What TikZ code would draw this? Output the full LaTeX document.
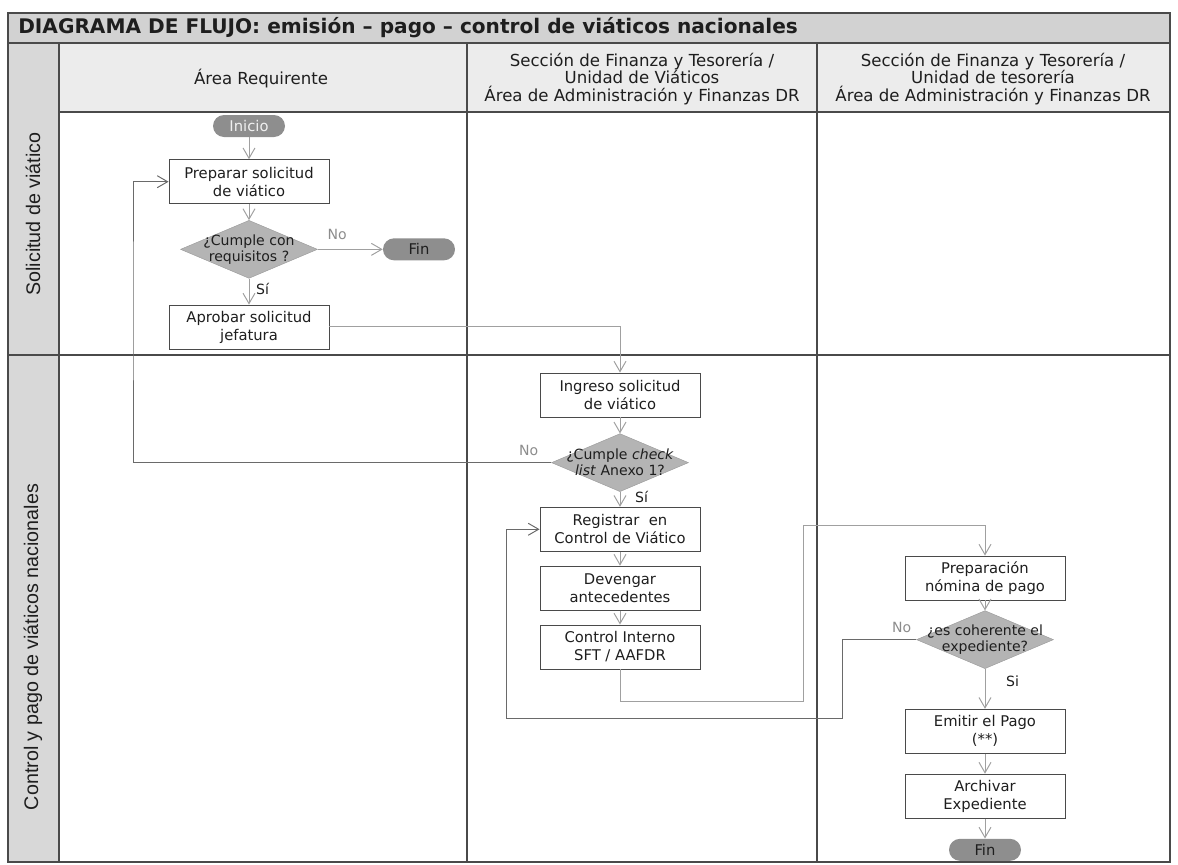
\documentclass[tikz,border=0pt]{standalone}
\usepackage{fontspec}
\setmainfont{DejaVu Sans}
\newfontfamily\lanefont{Liberation Sans}
\usetikzlibrary{arrows.meta,positioning,shapes.geometric}
\definecolor{Ink}{HTML}{1E1E1E}
\definecolor{Frame}{HTML}{4A4A4A}
\definecolor{Band}{HTML}{D2D2D2}
\definecolor{HeadFill}{HTML}{ECECEC}
\definecolor{Lane}{HTML}{D8D8D8}
\definecolor{Decide}{HTML}{B4B4B4}
\definecolor{Pill}{HTML}{8E8E8E}
\definecolor{Wire}{HTML}{A0A0A0}
\definecolor{Back}{HTML}{6A6A6A}
\definecolor{Muted}{HTML}{8C8C8C}
\newcommand{\dline}[1]{\makebox[0pt]{#1}}
\tikzset{
  frame/.style={draw=Frame,line width=0.8pt},
  titletext/.style={font=\fontsize{14.3}{16}\selectfont\bfseries,text=Ink,inner sep=0pt},
  headtext/.style={font=\fontsize{11.8}{12.4}\selectfont,align=center,text=Ink},
  lanetext/.style={font=\lanefont\fontsize{14}{15}\selectfont,rotate=90,text=Ink},
  task/.style={draw=Frame,line width=0.6pt,fill=white,minimum width=40mm,minimum height=11mm,align=center,inner sep=1pt,text=Ink,font=\fontsize{10.5}{12.8}\selectfont},
  decision/.style={diamond,fill=Decide,draw=Decide!85!black,line width=0.3pt,minimum width=34.25mm,minimum height=14.5mm,inner sep=0pt,align=center,text=Ink,font=\fontsize{10}{11.5}\selectfont},
  terminal/.style={fill=Pill,rounded corners=2.75mm,minimum width=18mm,minimum height=5.5mm,inner sep=0pt,font=\fontsize{10.5}{12}\selectfont},
  flowArrow/.style={-{Straight Barb[length=2.6mm,width=3mm]},line width=0.7pt,draw=Wire},
  backArrow/.style={-{Straight Barb[length=2.6mm,width=3mm]},line width=0.7pt,draw=Back},
  nolabel/.style={font=\fontsize{10}{12}\selectfont,text=Muted},
  silabel/.style={font=\fontsize{10}{12}\selectfont,text=Ink}
}
\begin{document}
\begin{tikzpicture}[x=0.25mm,y=-0.25mm,node distance=5mm and 16mm]
\useasboundingbox (0,0) rectangle (1178,865);
% lanes and header
\fill[Band] (8,13) rectangle (1170,43);
\fill[HeadFill] (59,43) rectangle (1170,112);
\fill[Lane] (8,43) rectangle (59,862);
\draw[frame] (8,13) rectangle (1170,862);
\draw[frame] (8,43) -- (1170,43);
\draw[frame] (59,112) -- (1170,112);
\draw[frame] (59,43) -- (59,862);
\draw[frame] (467,43) -- (467,862);
\draw[frame] (817,43) -- (817,862);
\draw[frame] (8,355) -- (1170,355);
\node[titletext,anchor=west] (title) at (18,28) {DIAGRAMA DE FLUJO: emisión – pago – control de viáticos nacionales};
\node[headtext] (hReq) at (261,79) {Área Requirente};
\node[headtext] (hVia) at (642,79) {Sección de Finanza y Tesorería /\\Unidad de Viáticos\\Área de Administración y Finanzas DR};
\node[headtext] (hTes) at (993,79) {Sección de Finanza y Tesorería /\\Unidad de tesorería\\Área de Administración y Finanzas DR};
\node[lanetext] (lSol) at (33,214) {Solicitud de viático};
\node[lanetext] (lCtl) at (33,647) {Control y pago de viáticos nacionales};
% area requirente
\node[terminal,text=white!88!gray] (inicio) at (249,126) {Inicio};
\node[task,below=5.5mm of inicio] (preparar) {Preparar solicitud\\de viático};
\node[decision,below=4mm of preparar] (cumple1) {\dline{¿Cumple con}\\\dline{requisitos ?}};
\node[terminal,text=Ink,right=16.25mm of cumple1] (fin1) {Fin};
\node[task,below=6.5mm of cumple1] (aprobar) {Aprobar solicitud\\jefatura};
% unidad de viaticos
\node[task] (ingreso) at (620,395) {Ingreso solicitud\\de viático};
\node[decision,below=4mm of ingreso] (cumple2) {\dline{¿Cumple \textit{check}}\\\dline{\textit{list} Anexo 1?}};
\node[task,below=3.75mm of cumple2] (registrar) {Registrar\ \ en\\Control de Viático};
\node[task,below=3.5mm of registrar] (devengar) {Devengar\\antecedentes};
\node[task,below=3.5mm of devengar] (control) {Control Interno\\SFT / AAFDR};
% unidad de tesoreria
\node[task] (preparacion) at (985,578) {Preparación\\nómina de pago};
\node[decision,below=2.5mm of preparacion] (cumple3) {\dline{¿es coherente el}\\\dline{expediente?}};
\node[task,below=10mm of cumple3] (emitir) {Emitir el Pago\\(**)};
\node[task,below=5mm of emitir] (archivar) {Archivar\\Expediente};
\node[terminal,text=Ink,below=5mm of archivar] (fin2) {Fin};
% return points
\coordinate (retA) at (133,300);
\coordinate (upA) at (803,701);
\coordinate (upB) at (803,525);
\coordinate (backA) at (842,718);
\coordinate (backB) at (506,718);
% connectors
\draw[flowArrow] (inicio) -- (preparar);
\draw[flowArrow] (preparar) -- (cumple1);
\draw[flowArrow] (cumple1) -- node[nolabel,above=1mm,pos=0.3] (no1) {No} (fin1);
\draw[flowArrow] (cumple1) -- node[silabel,right=0.5mm,pos=0.4] (si1) {Sí} (aprobar);
\draw[flowArrow] (aprobar) -| (ingreso);
\draw[flowArrow] (ingreso) -- (cumple2);
\draw[backArrow] (cumple2.west) -| (retA) |- (preparar.west);
\node[nolabel,above left=0.5mm and 2mm of cumple2.west] (no2) {No};
\draw[flowArrow] (cumple2) -- node[silabel,right=2.5mm,pos=0.35] (si2) {Sí} (registrar);
\draw[flowArrow] (registrar) -- (devengar);
\draw[flowArrow] (devengar) -- (control);
\draw[flowArrow] (control.south) |- (upA) -- (upB) -| (preparacion.north);
\draw[flowArrow] (preparacion) -- (cumple3);
\draw[backArrow] (cumple3.west) -| (backA) -| (backB) |- (registrar.west);
\node[nolabel,above left=0.5mm and 0mm of cumple3.west] (no3) {No};
\draw[flowArrow] (cumple3) -- node[silabel,right=4mm,pos=0.3] (si3) {Si} (emitir);
\draw[flowArrow] (emitir) -- (archivar);
\draw[flowArrow] (archivar) -- (fin2);
\end{tikzpicture}
\end{document}
